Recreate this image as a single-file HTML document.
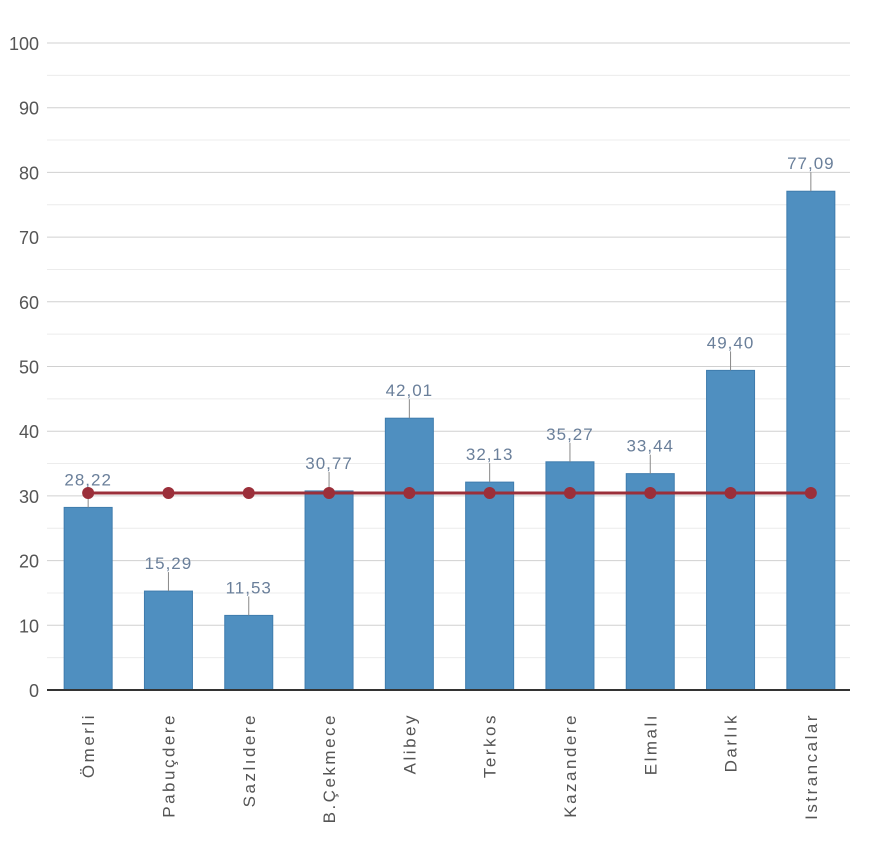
<!DOCTYPE html>
<html><head><meta charset="utf-8"><style>
body{margin:0;background:#fff;}
svg{display:block;font-family:"Liberation Sans",sans-serif;}
</style></head><body>
<svg id="chart" width="880" height="864"></svg>
<script>
const categories=["Ömerli","Pabuçdere","Sazlıdere","B.Çekmece","Alibey","Terkos","Kazandere","Elmalı","Darlık","Istrancalar"];
const values=[28.22,15.29,11.53,30.77,42.01,32.13,35.27,33.44,49.40,77.09];
const labels=["28,22","15,29","11,53","30,77","42,01","32,13","35,27","33,44","49,40","77,09"];
const averageValues=[30.45,30.45,30.45,30.45,30.45,30.45,30.45,30.45,30.45,30.45];
const yTicks=[0,10,20,30,40,50,60,70,80,90,100];
const minorTicks=[5,15,25,35,45,55,65,75,85,95];

const svg=document.getElementById('chart');
const NS='http://www.w3.org/2000/svg';
const x0=47,x1=850,y0=690,yTop=43;
const step=(x1-x0)/categories.length;
function yScale(v){return y0-(v/100)*(y0-yTop);}
function xScale(i){return x0+step*(i+0.5)+1;}
function mk(tag,attrs,parent){const e=document.createElementNS(NS,tag);for(const k in attrs)e.setAttribute(k,attrs[k]);(parent||svg).appendChild(e);return e;}

minorTicks.forEach(t=>{
  const l=mk('line',{x1:x0,x2:x1,y1:yScale(t),y2:yScale(t),stroke:'#ececec','stroke-width':1});
  
  
});
yTicks.forEach(t=>{
  if(t>0){
    const l=mk('line',{x1:x0,x2:x1,y1:yScale(t),y2:yScale(t),stroke:'#d0d0d0','stroke-width':1});
    
    
  }
  const tx=mk('text',{x:39,y:yScale(t)+7,'text-anchor':'end','font-size':18,fill:'#555'});
  tx.textContent=t;
  
  
});
const bw=48;
values.forEach((v,i)=>{
  const cx=xScale(i),top=yScale(v);
  const r=mk('rect',{x:cx-bw/2,y:top,width:bw,height:y0-top,fill:'#4f8fc0',stroke:'#3f7cad','stroke-width':1});
  
  
  const c=mk('line',{x1:cx,x2:cx,y1:top,y2:top-19,stroke:'#888','stroke-width':1});
  
  
  const t=mk('text',{x:cx,y:top-22,'text-anchor':'middle','font-size':17,'letter-spacing':1,fill:'#6a7f9a'});
  t.textContent=labels[i];
  
  
  const xl=mk('text',{transform:`translate(${cx+6},713) rotate(-90)`,'text-anchor':'end','font-size':17,'letter-spacing':2.5,fill:'#555'});
  xl.textContent=categories[i];
  
  
});
const ax=mk('line',{x1:x0,x2:x1,y1:y0,y2:y0,stroke:'#333','stroke-width':2});


const pts=averageValues.map((v,i)=>xScale(i)+','+yScale(v)).join(' ');
const pl=mk('polyline',{points:pts,fill:'none',stroke:'#9b2f3a','stroke-width':3});


averageValues.forEach((v,i)=>{
  const c=mk('circle',{cx:xScale(i),cy:yScale(v),r:6,fill:'#9b2f3a'});
  
  
});
</script>
</body></html>
